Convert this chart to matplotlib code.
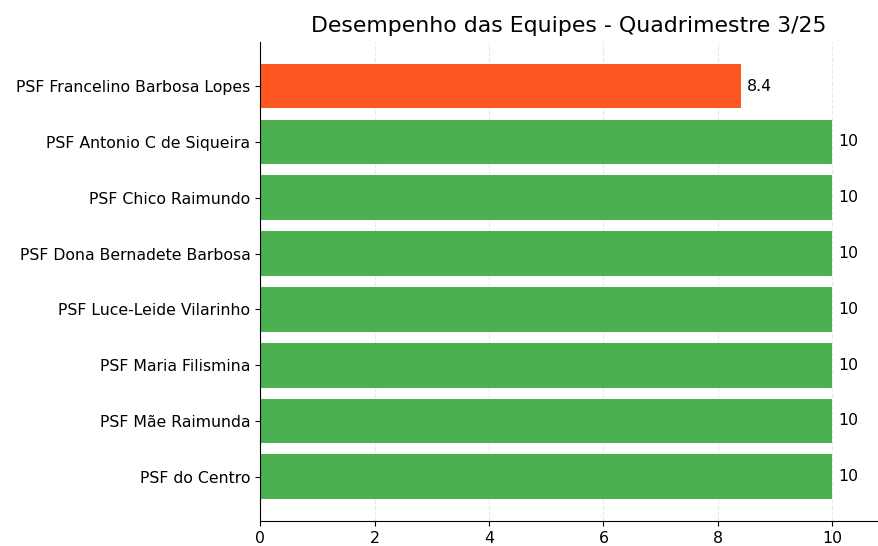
import matplotlib.pyplot as plt
import numpy as np

equipes = ['PSF Francelino Barbosa Lopes', 'PSF Antonio C de Siqueira', 'PSF Chico Raimundo',
           'PSF Dona Bernadete Barbosa', 'PSF Luce-Leide Vilarinho', 'PSF Maria Filismina',
           'PSF Mãe Raimunda', 'PSF do Centro']
notas = [8.4, 10, 10, 10, 10, 10, 10, 10]

# cor por desempenho
cores = ['#FF5722' if n < 10 else '#4CAF50' for n in notas]

fig, ax = plt.subplots(figsize=(8.79, 5.46), dpi=100)
fig.subplots_adjust(left=0.296, right=0.999, top=0.923, bottom=0.046)

y = np.arange(len(equipes))
ax.barh(y, notas, color=cores, height=0.8)
ax.set_yticks(y)
ax.set_yticklabels(equipes, fontsize=11.3)
ax.invert_yaxis()
ax.set_xlim(0, max(notas) * 1.08)

for i, n in enumerate(notas):
    ax.text(n + 0.1, i, f'{n:g}', va='center', fontsize=11.3)

ax.set_title('Desempenho das Equipes - Quadrimestre 3/25', fontsize=15.8, pad=7)
ax.grid(axis='x', linestyle='--', alpha=0.3)
ax.set_axisbelow(True)
ax.spines['top'].set_visible(False)
ax.spines['right'].set_visible(False)
ax.tick_params(axis='x', labelsize=11.3)

plt.savefig('out.png')
